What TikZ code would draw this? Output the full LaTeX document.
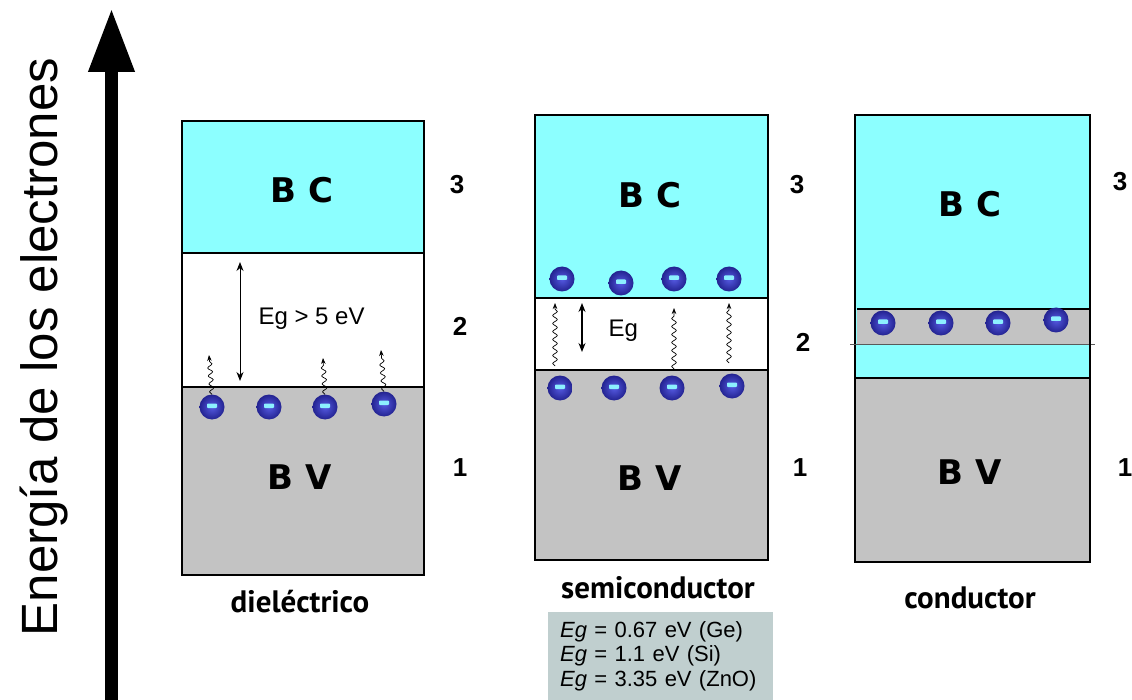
\documentclass[tikz,border=0pt]{standalone}
\usepackage{fontspec}
\setmainfont{Liberation Sans}
\newfontfamily\bandfont{DejaVu Sans}
\newfontfamily\capfont{PT Sans}
\usetikzlibrary{arrows.meta,decorations.pathmorphing}
\definecolor{cbcyan}{RGB}{140,255,255}
\definecolor{bvgray}{RGB}{195,195,195}
\definecolor{eblue}{RGB}{85,90,225}
\definecolor{edark}{RGB}{35,35,145}
\definecolor{minuscyan}{RGB}{140,240,255}
\definecolor{egbox}{RGB}{192,207,207}

\begin{document}
\begin{tikzpicture}[
  x=1pt, y=-1pt,
  band/.style={draw=black, line width=1.8pt},
  bandlab/.style={font=\bandfont\bfseries\fontsize{34}{36}\selectfont},
  num/.style={font=\bfseries\fontsize{26}{28}\selectfont},
  matlab/.style={font=\capfont\bfseries\fontsize{31}{33}\selectfont},
  eglab/.style={anchor=base west, font=\fontsize{24}{26}\selectfont},
  electron/.style={circle, minimum size=25pt, inner sep=0pt, inner color=eblue, outer color=edark,
    path picture={\fill[minuscyan, rounded corners=0.8pt] ([xshift=-5pt,yshift=-1pt]path picture bounding box.center) rectangle ++(10pt,4.5pt);}},
  wave/.style={-{Stealth[length=6pt,width=4.5pt]}, line width=0.7pt, decorate,
    decoration={snake, amplitude=2.3pt, segment length=8pt, post length=6pt}},
  gap/.style={{Stealth[length=9pt,width=7pt]}-{Stealth[length=9pt,width=7pt]}, line width=1pt}
]
\useasboundingbox (0,0) rectangle (1132,700);

% energy axis
\coordinate (axbot) at (111.5,706);
\coordinate (axtop) at (111.5,8);
\draw[line width=13pt, -{Triangle[length=64pt, width=43pt]}] (axbot) -- (axtop);
\node[rotate=90, anchor=base, font=\fontsize{51}{53}\selectfont] (axlab) at (57,347) {Energía de los electrones};

% dielectric
\draw[band, fill=cbcyan] (182,121) rectangle (424,253);
\draw[band, fill=white] (182,253) rectangle (424,387);
\draw[band, fill=bvgray] (182,387) rectangle (424,575);
\node[bandlab] (dBC) at (302,190) {B C};
\node[bandlab] (dBV) at (300,477) {B V};
\node[num] (d3) at (457,185) {3};
\node[num] (d2) at (460,326) {2};
\node[num] (d1) at (460,468) {1};
\node[matlab] (dlab) at (300,602) {dieléctrico};
\foreach \i/\x/\y in {1/212/407, 2/269/407, 3/325/407, 4/384/404}
  \node[electron] (de\i) at (\x,\y) {};
\coordinate (dw1) at (209,355);
\coordinate (dw3) at (323,358);
\coordinate (dw4) at (381,350);
\draw[wave] (de1.north) -- (dw1);
\draw[wave] (de3.north) -- (dw3);
\draw[wave] (de4.north) -- (dw4);
\coordinate (dgt) at (240,262);
\coordinate (dgb) at (240,381);
\draw[gap] (dgt) -- (dgb);
\node[eglab] (dEg) at (255,325) {Eg > 5 eV};

% semiconductor
\draw[band, fill=cbcyan] (535,115) rectangle (768,298);
\draw[band, fill=white] (535,298) rectangle (768,370);
\draw[band, fill=bvgray] (535,370) rectangle (768,560);
\node[bandlab] (sBC) at (650,195) {B C};
\node[bandlab] (sBV) at (650,478) {B V};
\node[num] (s3) at (797,185) {3};
\node[num] (s2) at (803,342) {2};
\node[num] (s1) at (800,468) {1};
\node[matlab] (slab) at (658,588) {semiconductor};
\foreach \i/\x/\y in {1/562/279, 2/621/283, 3/674/279, 4/729/279}
  \node[electron] (se\i) at (\x,\y) {};
\foreach \i/\x/\y in {1/560/388, 2/614/388, 3/672/388, 4/732/386}
  \node[electron] (sv\i) at (\x,\y) {};
\coordinate (sw1a) at (555,366);
\coordinate (sw1b) at (555,303);
\coordinate (sw3a) at (674,369);
\coordinate (sw3b) at (674,308);
\coordinate (sw4a) at (729,363);
\coordinate (sw4b) at (729,303);
\draw[wave] (sw1a) -- (sw1b);
\draw[wave] (sw3a) -- (sw3b);
\draw[wave] (sw4a) -- (sw4b);
\coordinate (sgt) at (582,303);
\coordinate (sgb) at (582,352);
\draw[gap, line width=1.3pt] (sgt) -- (sgb);
\node[eglab] (sEg) at (605,337) {Eg};
\node[fill=egbox, anchor=north west, minimum width=225pt, minimum height=88pt,
  text width=201pt, align=left, inner xsep=12pt, font=\fontsize{22}{24.5}\selectfont] (egvals) at (548,612)
  {\textit{Eg} = 0.67 eV (Ge)\\ \textit{Eg} = 1.1 eV (Si)\\ \textit{Eg} = 3.35 eV (ZnO)};

% conductor
\draw[band, fill=cbcyan] (855,115) rectangle (1090,378);
\draw[band, fill=bvgray] (855,378) rectangle (1090,562);
\fill[bvgray] (857,309) rectangle (1089,344);
\draw[band] (857,309) -- (1090,309);
\draw[gray!70!black, line width=0.9pt] (850,344.5) -- (1095,344.5);
\draw[band] (1090,300) -- (1090,350);
\node[bandlab] (cBC) at (970,204) {B C};
\node[bandlab] (cBV) at (970,472) {B V};
\node[num] (c3) at (1120,182) {3};
\node[num] (c1) at (1125,468) {1};
\node[matlab] (clab) at (970,598) {conductor};
\foreach \i/\x/\y in {1/883/323, 2/941/323, 3/998/323, 4/1056/320}
  \node[electron] (ce\i) at (\x,\y) {};
\end{tikzpicture}
\end{document}
